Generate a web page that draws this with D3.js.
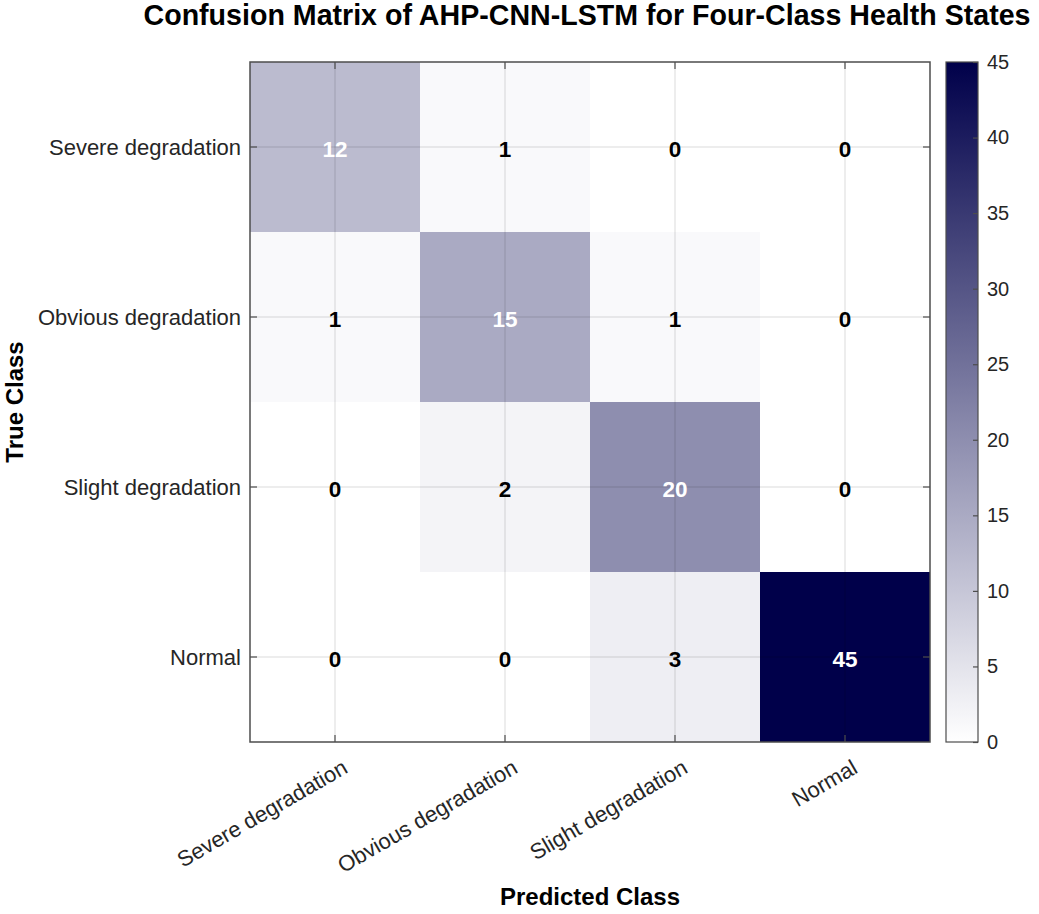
<!DOCTYPE html>
<html>
<head>
<meta charset="utf-8">
<script src="https://cdn.jsdelivr.net/npm/d3@7"></script>
<style>
	body { margin: 0; background: #fff; }
	text { font-family: "Liberation Sans", Arial, sans-serif; }
</style>
</head>
<body>
<div id="chart"></div>
<script>
"use strict";

// class names, rows = true class, columns = predicted class
let classes = ["Severe degradation", "Obvious degradation", "Slight degradation", "Normal"];
let counts = [
	[12, 1, 0, 0],
	[1, 15, 1, 0],
	[0, 2, 20, 0],
	[0, 0, 3, 45]
];
let colorTicks = [0, 5, 10, 15, 20, 25, 30, 35, 40, 45];
let colorMax = 45;

let width = 1039;
let height = 914;
let plot = { left: 250, top: 62, right: 930, bottom: 742 };
let bar = { left: 946, right: 978, top: 62, bottom: 742 };

let svg = d3.select("#chart")
			.append("svg")
			.attr("width", width)
			.attr("height", height);

let x = d3.scaleBand().domain(d3.range(classes.length)).range([plot.left, plot.right]);
let y = d3.scaleBand().domain(d3.range(classes.length)).range([plot.top, plot.bottom]);
let color = d3.scaleLinear().domain([0, colorMax]).range(["#ffffff", "#00004a"]);

let cells = [];
counts.forEach(function(row, i)
{
	row.forEach(function(v, j)
	{
		cells.push({ row: i, col: j, value: v });
	});
});

// cells
svg.append("g")
	.selectAll("rect")
	.data(cells)
	.enter().append("rect")
	.attr("x", d => x(d.col))
	.attr("y", d => y(d.row))
	.attr("width", x.bandwidth())
	.attr("height", y.bandwidth())
	.attr("fill", d => color(d.value));

// grid lines through the cell centres (drawn on top like MATLAB)
let grid = svg.append("g").attr("stroke", "#000").attr("stroke-opacity", 0.14).attr("stroke-width", 1);
d3.range(classes.length).forEach(function(k)
{
	let cx = x(k) + x.bandwidth() / 2;
	let cy = y(k) + y.bandwidth() / 2;
	grid.append("line").attr("x1", cx).attr("x2", cx).attr("y1", plot.top).attr("y2", plot.bottom);
	grid.append("line").attr("x1", plot.left).attr("x2", plot.right).attr("y1", cy).attr("y2", cy);
});

// numbers
svg.append("g")
	.selectAll("text")
	.data(cells)
	.enter().append("text")
	.attr("x", d => x(d.col) + x.bandwidth() / 2)
	.attr("y", d => y(d.row) + y.bandwidth() / 2 + 2)
	.attr("text-anchor", "middle")
	.attr("dominant-baseline", "central")
	.attr("font-size", "22.5px")
	.attr("font-weight", "bold")
	.attr("fill", d => d.value > colorMax * 0.25 ? "#ffffff" : "#000000")
	.text(d => d.value);

// axes (ticks pointing inward, box on)
let tickLen = 7;
let xAxis = d3.axisBottom(x).tickSizeInner(-tickLen).tickSizeOuter(0).tickFormat("");
let yAxis = d3.axisLeft(y).tickSizeInner(-tickLen).tickSizeOuter(0).tickFormat(d => classes[d]);
let xTop = d3.axisTop(x).tickSizeInner(-tickLen).tickSizeOuter(0).tickFormat("");
let yRight = d3.axisRight(y).tickSizeInner(-tickLen).tickSizeOuter(0).tickFormat("");

function styleAxis(g)
{
	g.select(".domain").remove();
	g.selectAll(".tick line").attr("stroke", "#4d4d4d").attr("stroke-width", 1.2);
	g.selectAll(".tick text").attr("fill", "#262626").attr("font-size", "22px");
}

svg.append("g").attr("transform", "translate(0," + plot.bottom + ")").call(xAxis).call(styleAxis);
svg.append("g").attr("transform", "translate(0," + plot.top + ")").call(xTop).call(styleAxis);
svg.append("g").attr("transform", "translate(" + plot.right + ",0)").call(yRight).call(styleAxis);
let yg = svg.append("g").attr("transform", "translate(" + plot.left + ",0)").call(yAxis).call(styleAxis);
yg.selectAll(".tick text").attr("x", -9).attr("dy", "0.35em");

// rotated x labels
svg.append("g")
	.selectAll("text")
	.data(classes)
	.enter().append("text")
	.attr("transform", (d, i) => "translate(" + (x(i) + x.bandwidth() / 2 + 14) + "," + (plot.bottom + 30) + ") rotate(-30)")
	.attr("text-anchor", "end")
	.attr("font-size", "22px")
	.attr("fill", "#262626")
	.text(d => d);

// box
svg.append("rect")
	.attr("x", plot.left)
	.attr("y", plot.top)
	.attr("width", plot.right - plot.left)
	.attr("height", plot.bottom - plot.top)
	.attr("fill", "none")
	.attr("stroke", "#4d4d4d")
	.attr("stroke-width", 1.5);

// colorbar
let defs = svg.append("defs");
let grad = defs.append("linearGradient")
	.attr("id", "cbar")
	.attr("x1", "0").attr("y1", "1").attr("x2", "0").attr("y2", "0");
grad.selectAll("stop")
	.data(colorTicks)
	.enter().append("stop")
	.attr("offset", d => d / colorMax)
	.attr("stop-color", d => color(d));

svg.append("rect")
	.attr("x", bar.left)
	.attr("y", bar.top)
	.attr("width", bar.right - bar.left)
	.attr("height", bar.bottom - bar.top)
	.attr("fill", "url(#cbar)")
	.attr("stroke", "#4d4d4d")
	.attr("stroke-width", 1.2);

let cScale = d3.scaleLinear().domain([0, colorMax]).range([bar.bottom, bar.top]);
let cAxis = d3.axisRight(cScale).tickValues(colorTicks).tickSizeInner(-5).tickSizeOuter(0).tickPadding(10);
let cg = svg.append("g").attr("transform", "translate(" + bar.right + ",0)").call(cAxis);
cg.select(".domain").remove();
cg.selectAll(".tick line").attr("stroke", "#4d4d4d").attr("stroke-width", 1.2);
cg.selectAll(".tick text").attr("fill", "#262626").attr("font-size", "20px").attr("x", 9);

// titles
svg.append("text")
	.attr("x", 587)
	.attr("y", 25)
	.attr("text-anchor", "middle")
	.attr("font-size", "28.6px")
	.attr("font-weight", "bold")
	.attr("fill", "#000")
	.text("Confusion Matrix of AHP-CNN-LSTM for Four-Class Health States");

svg.append("text")
	.attr("x", (plot.left + plot.right) / 2)
	.attr("y", 905)
	.attr("text-anchor", "middle")
	.attr("font-size", "24px")
	.attr("font-weight", "bold")
	.attr("fill", "#000")
	.text("Predicted Class");

svg.append("text")
	.attr("transform", "translate(23," + (plot.top + plot.bottom) / 2 + ") rotate(-90)")
	.attr("text-anchor", "middle")
	.attr("font-size", "24px")
	.attr("font-weight", "bold")
	.attr("fill", "#000")
	.text("True Class");
</script>
</body>
</html>
